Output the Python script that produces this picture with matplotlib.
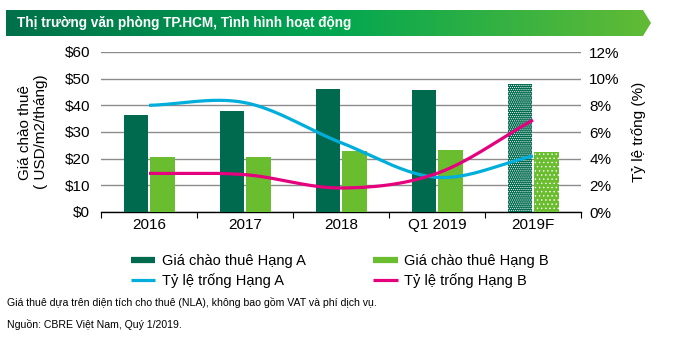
import matplotlib
matplotlib.use("Agg")
import matplotlib.pyplot as plt
import numpy as np
from matplotlib.lines import Line2D
from matplotlib.patches import Polygon

plt.rcParams['font.family'] = ['Liberation Sans', 'DejaVu Sans']
plt.rcParams['hatch.linewidth'] = 0.5

categories = ['2016', '2017', '2018', 'Q1 2019', '2019F']
rent_a = [36.4, 37.9, 46.1, 45.8, 48.0]
rent_b = [20.5, 20.5, 22.9, 23.2, 22.4]
vacancy_a = [8.0, 8.2, 5.2, 2.6, 4.2]
vacancy_b = [2.9, 2.8, 1.8, 2.9, 6.9]
forecast = [False, False, False, False, True]

dark_green = '#006A4E'
light_green = '#6ABD2F'
blue = '#00AEDB'
pink = '#E5007D'


def smooth(xs, ys, n=40):
    # catmull-rom, like excel's smoothed line
    xs = np.asarray(xs, float)
    ys = np.asarray(ys, float)
    px = np.concatenate([[2 * xs[0] - xs[1]], xs, [2 * xs[-1] - xs[-2]]])
    py = np.concatenate([[2 * ys[0] - ys[1]], ys, [2 * ys[-1] - ys[-2]]])
    outx, outy = [], []
    for i in range(1, len(px) - 2):
        t = np.linspace(0, 1, n)
        for p, out in ((px, outx), (py, outy)):
            p0, p1, p2, p3 = p[i - 1], p[i], p[i + 1], p[i + 2]
            out.extend(0.5 * (2 * p1 + (-p0 + p2) * t
                              + (2 * p0 - 5 * p1 + 4 * p2 - p3) * t ** 2
                              + (-p0 + 3 * p1 - 3 * p2 + p3) * t ** 3))
    return outx, outy


fig = plt.figure(figsize=(6.75, 3.52), dpi=100)

# title banner with gradient
bax = fig.add_axes([0, 0, 1, 1])
bax.set_xlim(0, 675)
bax.set_ylim(352, 0)
bax.axis('off')
grad = np.linspace(0, 1, 256).reshape(1, -1)
cmap = matplotlib.colors.LinearSegmentedColormap.from_list(
    'ban', ['#00704A', '#00A651', '#62BB35'])
img = bax.imshow(grad, cmap=cmap, extent=[6, 651, 36, 10], aspect='auto', zorder=0)
poly = Polygon([[6, 10], [643, 10], [651, 23], [643, 36], [6, 36]],
               closed=True, transform=bax.transData, facecolor='none', edgecolor='none')
bax.add_patch(poly)
img.set_clip_path(poly)
bax.text(17, 23.5, 'Thị trường văn phòng TP.HCM, Tình hình hoạt động',
         color='white', fontsize=9.8, fontweight='bold', va='center', ha='left')

ax = fig.add_axes([101 / 675, 1 - 212 / 352, 480 / 675, 160 / 352])
x = np.arange(len(categories))
w = 0.255
for i in range(len(categories)):
    if forecast[i]:
        ax.bar(x[i] - 0.135, rent_a[i], w, color=dark_green, edgecolor='white',
               linewidth=0, hatch='........', zorder=3)
        ax.bar(x[i] + 0.14, rent_b[i], w, color=light_green, edgecolor='white',
               linewidth=0, hatch='....', zorder=3)
    else:
        ax.bar(x[i] - 0.135, rent_a[i], w, color=dark_green, zorder=3)
        ax.bar(x[i] + 0.14, rent_b[i], w, color=light_green, zorder=3)

ax.set_xlim(-0.5, 4.5)
ax.set_ylim(0, 60)
ax.set_yticks(range(0, 61, 10))
ax.set_yticklabels(['$%d' % v for v in range(0, 61, 10)])
ax.yaxis.grid(True, color='#8C8C8C', linewidth=1)
ax.set_axisbelow(True)
for s in ['left', 'right', 'top']:
    ax.spines[s].set_visible(False)
ax.spines['bottom'].set_color('black')
ax.spines['bottom'].set_linewidth(1)
ax.tick_params(axis='y', length=0, labelsize=11, pad=8)
ax.set_xticks(np.arange(-0.5, 5, 1))
ax.set_xticklabels([])
ax.set_xticks(x, minor=True)
ax.set_xticklabels(categories, minor=True)
ax.tick_params(axis='x', which='major', length=4, direction='out', color='black')
ax.tick_params(axis='x', which='minor', length=0, labelsize=11, pad=4)
ax.set_ylabel('Giá chào thuê\n( USD/m2/tháng)', fontsize=11, labelpad=12, linespacing=1.2)

ax2 = ax.twinx()
ax2.set_ylim(0, 12)
ax2.set_yticks(range(0, 13, 2))
ax2.set_yticklabels(['%d%%' % v for v in range(0, 13, 2)])
for s in ['left', 'right', 'top', 'bottom']:
    ax2.spines[s].set_visible(False)
ax2.tick_params(axis='y', length=0, labelsize=11, pad=6)
ax2.set_ylabel('Tỷ lệ trống (%)', fontsize=11, labelpad=8)

sx, sy = smooth(x, vacancy_a)
ax2.plot(sx, sy, color=blue, linewidth=2.3, solid_capstyle='butt', zorder=4)
sx, sy = smooth(x, vacancy_b)
ax2.plot(sx, sy, color=pink, linewidth=2.3, solid_capstyle='butt', zorder=4)

handles = [
    Line2D([], [], color=dark_green, linewidth=4.5, solid_capstyle='butt'),
    Line2D([], [], color=blue, linewidth=2.3, solid_capstyle='butt'),
    Line2D([], [], color=light_green, linewidth=4.5, solid_capstyle='butt'),
    Line2D([], [], color=pink, linewidth=2.3, solid_capstyle='butt'),
]
labels = ['Giá chào thuê Hạng A', 'Tỷ lệ trống Hạng A',
          'Giá chào thuê Hạng B', 'Tỷ lệ trống Hạng B']
fig.legend(handles, labels, ncol=2, loc='center left',
           bbox_to_anchor=(118 / 675, 1 - 271 / 352), frameon=False, fontsize=10.5,
           handlelength=1.65, handletextpad=0.45, columnspacing=4.65, labelspacing=0.3)

fig.text(7 / 675, 1 - 302 / 352,
         'Giá thuê dựa trên diện tích cho thuê (NLA), không bao gồm VAT và phí dịch vụ.',
         fontsize=7.6, va='center', ha='left')
fig.text(7 / 675, 1 - 325 / 352, 'Nguồn: CBRE Việt Nam, Quý 1/2019.',
         fontsize=7.6, va='center', ha='left')

fig.savefig('out.png', dpi=100)
